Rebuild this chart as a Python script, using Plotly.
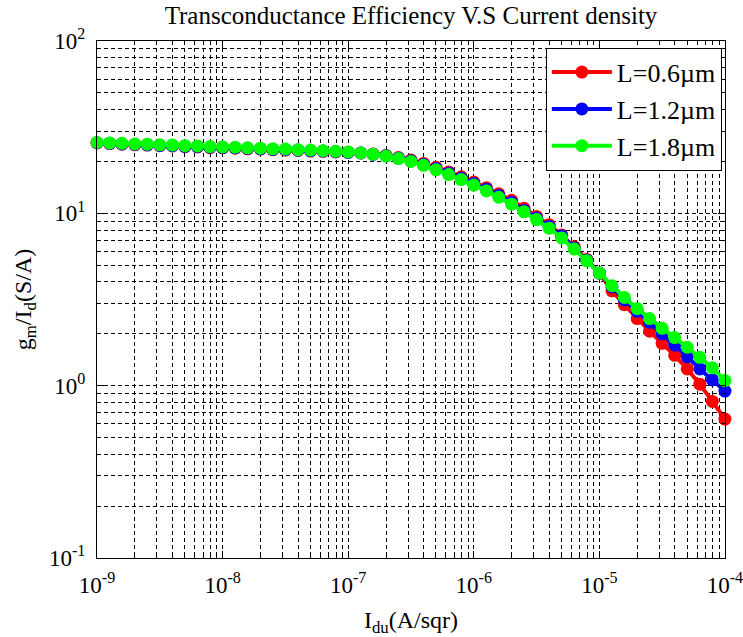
import plotly.graph_objects as go

# Current density sweep (A/sqr), 10 points per decade
current_density = [
    1.00e-9, 1.26e-9, 1.58e-9, 2.00e-9, 2.51e-9, 3.16e-9, 3.98e-9, 5.01e-9, 6.31e-9, 7.94e-9,
    1.00e-8, 1.26e-8, 1.58e-8, 2.00e-8, 2.51e-8, 3.16e-8, 3.98e-8, 5.01e-8, 6.31e-8, 7.94e-8,
    1.00e-7, 1.26e-7, 1.58e-7, 2.00e-7, 2.51e-7, 3.16e-7, 3.98e-7, 5.01e-7, 6.31e-7, 7.94e-7,
    1.00e-6, 1.26e-6, 1.58e-6, 2.00e-6, 2.51e-6, 3.16e-6, 3.98e-6, 5.01e-6, 6.31e-6, 7.94e-6,
    1.00e-5, 1.26e-5, 1.58e-5, 2.00e-5, 2.51e-5, 3.16e-5, 3.98e-5, 5.01e-5, 6.31e-5, 7.94e-5,
    1.00e-4,
]

# gm/Id (S/A) for each channel length
gm_id_L06 = [
    25.6, 25.4, 25.2, 25.0, 24.9, 24.7, 24.6, 24.4, 24.3, 24.1,
    24.0, 23.9, 23.7, 23.6, 23.4, 23.3, 23.2, 23.0, 22.9, 22.7,
    22.6, 22.4, 22.1, 21.7, 21.1, 20.4, 19.5, 18.5, 17.4, 16.3,
    15.2, 14.1, 13.0, 11.9, 10.7, 9.6, 8.6, 7.5, 6.4, 5.4,
    4.5, 3.55, 2.95, 2.45, 2.07, 1.76, 1.5, 1.25, 1.02, 0.81,
    0.64,
]
gm_id_L12 = [
    25.7, 25.5, 25.3, 25.1, 25.0, 24.8, 24.7, 24.5, 24.4, 24.2,
    24.1, 24.0, 23.8, 23.7, 23.5, 23.4, 23.3, 23.1, 23.0, 22.8,
    22.6, 22.4, 22.0, 21.6, 20.9, 20.2, 19.2, 18.2, 17.1, 16.0,
    14.9, 13.8, 12.7, 11.6, 10.4, 9.4, 8.4, 7.4, 6.3, 5.35,
    4.5, 3.75, 3.15, 2.7, 2.33, 2.0, 1.72, 1.47, 1.25, 1.08,
    0.93,
]
gm_id_L18 = [
    25.8, 25.6, 25.5, 25.3, 25.2, 25.0, 24.9, 24.7, 24.6, 24.4,
    24.3, 24.2, 24.0, 23.9, 23.7, 23.6, 23.4, 23.3, 23.1, 22.9,
    22.7, 22.4, 22.0, 21.5, 20.8, 20.0, 19.0, 17.9, 16.8, 15.7,
    14.6, 13.5, 12.4, 11.3, 10.2, 9.2, 8.2, 7.2, 6.2, 5.3,
    4.5, 3.8, 3.25, 2.8, 2.45, 2.15, 1.9, 1.67, 1.46, 1.27,
    1.07,
]

series_names = ["L=0.6µm", "L=1.2µm", "L=1.8µm"]
series_colors = ["#ff0000", "#0000ff", "#00ff00"]

x_tick_vals = [1e-9, 1e-8, 1e-7, 1e-6, 1e-5, 1e-4]
x_tick_text = ["10<sup>-9</sup>", "10<sup>-8</sup>", "10<sup>-7</sup>",
               "10<sup>-6</sup>", "10<sup>-5</sup>", "10<sup>-4</sup>"]
y_tick_vals = [1e-1, 1e0, 1e1, 1e2]
y_tick_text = ["10<sup>-1</sup>", "10<sup>0</sup>", "10<sup>1</sup>", "10<sup>2</sup>"]

FONT = "Liberation Serif"

fig = go.Figure()
for name, color, ys in zip(series_names, series_colors, [gm_id_L06, gm_id_L12, gm_id_L18]):
    fig.add_trace(go.Scatter(
        x=current_density, y=ys, name=name, mode="lines+markers",
        line=dict(color=color, width=4),
        marker=dict(color=color, size=13, symbol="circle"),
        legendgroup=name, cliponaxis=False,
    ))

minor_x = [m * 10.0 ** e for e in range(-9, -4) for m in range(2, 10)]
minor_y = [m * 10.0 ** e for e in range(-1, 2) for m in range(2, 10)]

grid_style = dict(showgrid=True, gridcolor="black", gridwidth=1, griddash="4px,3px")

fig.update_xaxes(
    type="log", range=[-9.0004, -3.9996],
    tickmode="array", tickvals=x_tick_vals, ticktext=x_tick_text,
    ticks="inside", ticklen=7, tickcolor="black", mirror="allticks",
    showline=True, linecolor="black", linewidth=1,
    tickfont=dict(family=FONT, size=23, color="black"),
    ticklabelstandoff=6, ticklabeloverflow="allow",
    minor=dict(tickmode="array", tickvals=minor_x, ticks="inside", ticklen=4,
               tickcolor="black", **grid_style),
    **grid_style,
    zeroline=False,
    title=dict(text="I<sub>du</sub>(A/sqr)", font=dict(family=FONT, size=24, color="black"),
               standoff=16),
)
fig.update_yaxes(
    type="log", range=[-1.0004, 2.0004],
    tickmode="array", tickvals=y_tick_vals, ticktext=y_tick_text,
    ticks="inside", ticklen=7, tickcolor="black", mirror="allticks",
    showline=True, linecolor="black", linewidth=1,
    tickfont=dict(family=FONT, size=23, color="black"),
    ticklabelstandoff=6, ticklabeloverflow="allow",
    minor=dict(tickmode="array", tickvals=minor_y, ticks="inside", ticklen=4,
               tickcolor="black", **grid_style),
    **grid_style,
    zeroline=False,
    title=dict(text="g<sub>m</sub>/I<sub>d</sub>(S/A)", font=dict(family=FONT, size=24, color="black"),
               standoff=10),
)

fig.update_layout(
    width=743, height=637,
    margin=dict(l=97, r=18, t=41, b=79, autoexpand=False),
    paper_bgcolor="white", plot_bgcolor="white",
    title=dict(text="Transconductance Efficiency V.S Current density",
               font=dict(family=FONT, size=25, color="black"),
               x=411 / 743, xanchor="center", y=1 - 15 / 637, yanchor="middle"),
    legend=dict(x=0.995, xanchor="right", y=0.987, yanchor="top",
                bgcolor="white", bordercolor="black", borderwidth=1,
                font=dict(family=FONT, size=26, color="black"),
                traceorder="grouped", tracegroupgap=0, itemwidth=60),
    showlegend=True,
)

fig.write_html("out.html")
